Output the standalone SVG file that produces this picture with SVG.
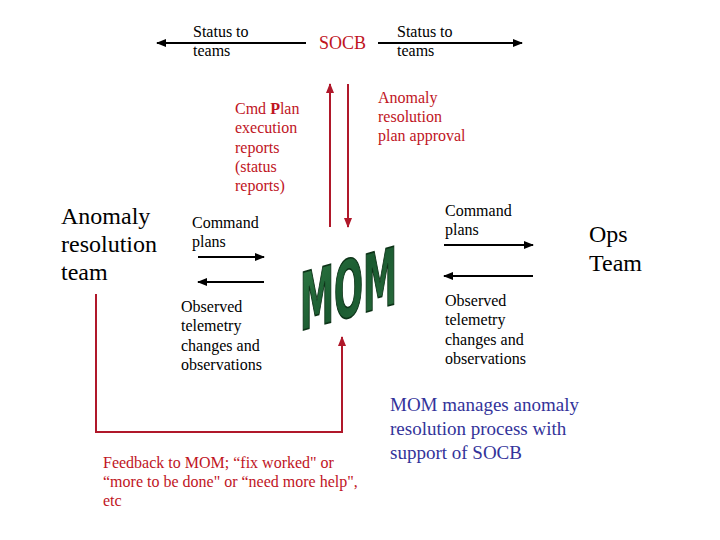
<svg xmlns="http://www.w3.org/2000/svg" width="720" height="540" viewBox="0 0 720 540">
<style>
.t{font-family:'Liberation Serif','Times New Roman',serif;font-size:16px;fill:#000}
.red{fill:#c0141e}
.big{font-size:24px}
.blue{fill:#33339a;font-size:19px}
.blk{stroke:#000;stroke-width:2;fill:none}
.rl{stroke:#b0182a;stroke-width:2;fill:none}
</style>
<defs>
<marker id="ab" viewBox="0 0 10 10" refX="9" refY="5" markerWidth="5" markerHeight="5" orient="auto" markerUnits="strokeWidth"><path d="M0,1 L10,5 L0,9 Z" fill="#000"/></marker>
<marker id="ar" viewBox="0 0 10 10" refX="9" refY="5" markerWidth="5" markerHeight="5" orient="auto" markerUnits="strokeWidth"><path d="M0,1 L10,5 L0,9 Z" fill="#b0182a"/></marker>
<linearGradient id="g" x1="0" y1="0" x2="1" y2="1">
<stop offset="0" stop-color="#2e7a44"/><stop offset="0.5" stop-color="#1a5a30"/><stop offset="1" stop-color="#2b6e3e"/>
</linearGradient>
</defs>
<rect width="720" height="540" fill="#fff"/>
<g id="connectors">
<line class="blk" x1="306" y1="43" x2="157" y2="43" marker-end="url(#ab)"/>
<line class="blk" x1="378" y1="43" x2="522" y2="43" marker-end="url(#ab)"/>
<line class="rl" x1="330" y1="227" x2="330" y2="84" marker-end="url(#ar)"/>
<line class="rl" x1="348" y1="84" x2="348" y2="227" marker-end="url(#ar)"/>
<line class="blk" x1="198" y1="257" x2="264" y2="257" marker-end="url(#ab)"/>
<line class="blk" x1="264" y1="282" x2="198" y2="282" marker-end="url(#ab)"/>
<line class="blk" x1="444" y1="245" x2="533" y2="245" marker-end="url(#ab)"/>
<line class="blk" x1="533" y1="276" x2="444" y2="276" marker-end="url(#ab)"/>
<polyline class="rl" points="96,294 96,432 342,432 342,337" marker-end="url(#ar)"/>
</g>
<g id="status-left"><text class="t" x="193" y="37">Status to</text><text class="t" x="193" y="56">teams</text></g>
<g id="socb"><text class="t red" x="319" y="49" style="font-size:18px">SOCB</text></g>
<g id="status-right"><text class="t" x="397" y="37">Status to</text><text class="t" x="397" y="56">teams</text></g>
<g id="cmd-plan-reports">
<text class="t red" x="235" y="114">Cmd <tspan font-weight="bold">P</tspan>lan</text>
<text class="t red" x="235" y="133">execution</text>
<text class="t red" x="235" y="153">reports</text>
<text class="t red" x="235" y="172">(status</text>
<text class="t red" x="235" y="191">reports)</text>
</g>
<g id="plan-approval">
<text class="t red" x="378" y="103">Anomaly</text>
<text class="t red" x="378" y="122">resolution</text>
<text class="t red" x="378" y="141">plan approval</text>
</g>
<g id="anomaly-team">
<text class="t big" x="61" y="224">Anomaly</text>
<text class="t big" x="61" y="252">resolution</text>
<text class="t big" x="61" y="280">team</text>
</g>
<g id="ops-team">
<text class="t big" x="589" y="242">Ops</text>
<text class="t big" x="589" y="271">Team</text>
</g>
<g id="cmd-left"><text class="t" x="192" y="228">Command</text><text class="t" x="192" y="247">plans</text></g>
<g id="cmd-right"><text class="t" x="445" y="216">Command</text><text class="t" x="445" y="235">plans</text></g>
<g id="obs-left">
<text class="t" x="181" y="312">Observed</text><text class="t" x="181" y="331">telemetry</text><text class="t" x="181" y="351">changes and</text><text class="t" x="181" y="370">observations</text>
</g>
<g id="obs-right">
<text class="t" x="445" y="306">Observed</text><text class="t" x="445" y="325">telemetry</text><text class="t" x="445" y="345">changes and</text><text class="t" x="445" y="364">observations</text>
</g>
<g id="feedback">
<text class="t red" x="103" y="468">Feedback to MOM; “fix worked" or</text>
<text class="t red" x="103" y="487">“more to be done" or “need more help",</text>
<text class="t red" x="103" y="506">etc</text>
</g>
<g id="summary">
<text class="t blue" x="390" y="411">MOM manages anomaly</text>
<text class="t blue" x="390" y="435">resolution process with</text>
<text class="t blue" x="390" y="459">support of SOCB</text>
</g>
<g id="mom">
<text transform="translate(300,331) skewY(-16) scale(1,1.42)" x="0" y="0" textLength="97" lengthAdjust="spacingAndGlyphs" style="font-family:'DejaVu Sans Condensed','DejaVu Sans',sans-serif;font-weight:bold;font-size:56px;fill:url(#g);stroke:#0d3318;stroke-width:1.2">MOM</text>
</g>
</svg>
